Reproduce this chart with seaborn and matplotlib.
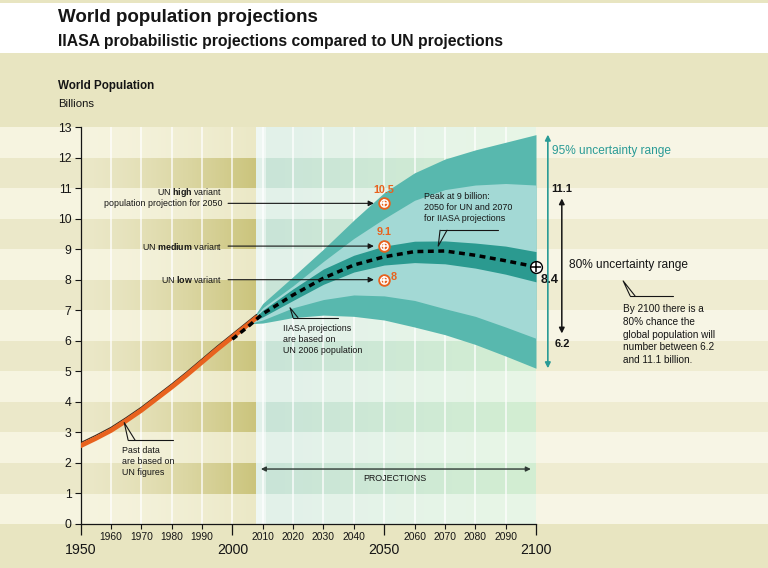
import numpy as np
import matplotlib
matplotlib.use("Agg")
import matplotlib.pyplot as plt
import seaborn as sns
from matplotlib.patches import Rectangle

# ---------------- data ----------------
hist_years = [1950, 1955, 1960, 1965, 1970, 1975, 1980, 1985, 1990, 1995, 2000, 2005, 2008]
hist_pop = [2.56, 2.80, 3.06, 3.38, 3.72, 4.10, 4.48, 4.88, 5.30, 5.72, 6.12, 6.52, 6.76]

proj_years = [2006, 2010, 2020, 2030, 2040, 2050, 2060, 2070, 2080, 2090, 2100]
upper95 = [6.62, 7.22, 8.10, 9.00, 9.95, 10.85, 11.50, 11.95, 12.25, 12.50, 12.75]
upper80 = [6.62, 7.08, 7.80, 8.60, 9.35, 10.00, 10.60, 10.95, 11.10, 11.15, 11.10]
upper_mid = [6.62, 7.00, 7.70, 8.35, 8.80, 9.10, 9.26, 9.27, 9.20, 9.10, 8.92]
lower_mid = [6.60, 6.78, 7.32, 7.85, 8.25, 8.48, 8.56, 8.52, 8.38, 8.18, 7.93]
lower80 = [6.58, 6.68, 7.08, 7.35, 7.50, 7.47, 7.32, 7.05, 6.80, 6.45, 6.08]
lower95 = [6.56, 6.58, 6.76, 6.84, 6.80, 6.68, 6.45, 6.20, 5.88, 5.50, 5.10]

median_years = [2000, 2005, 2010, 2020, 2030, 2040, 2050, 2060, 2070, 2080, 2090, 2100]
median_pop = [6.05, 6.45, 6.88, 7.50, 8.05, 8.48, 8.75, 8.92, 8.94, 8.80, 8.62, 8.42]

un_year = 2050
un_variants = ["high", "medium", "low"]
un_values = [10.5, 9.1, 8.0]
iiasa_2100 = 8.4
range80 = [6.2, 11.1]

major_years = [1950, 2000, 2050, 2100]
minor_years = [1960, 1970, 1980, 1990, 2010, 2020, 2030, 2040, 2060, 2070, 2080, 2090]
y_ticks = list(range(0, 14))

# ---------------- style ----------------
sns.set_theme(style="white")
FONT = ["Liberation Sans", "DejaVu Sans"]
plt.rcParams["font.family"] = FONT
plt.rcParams["mathtext.fontset"] = "custom"
plt.rcParams["mathtext.rm"] = "Liberation Sans"
plt.rcParams["mathtext.bf"] = "Liberation Sans:bold"

BEIGE = "#e8e5c1"
ORANGE = "#e8621e"
TEAL_OUT = "#58b8ae"
TEAL_IN = "#a3d9d5"
TEAL_MID = "#2b9a90"
TEAL_TXT = "#2a9b96"
INK = "#151515"

fig = plt.figure(figsize=(7.68, 5.68), dpi=100, facecolor=BEIGE)
ax = fig.add_axes([80.5 / 768, 44 / 568, 455.5 / 768, 397 / 568], zorder=1)
ax.set_facecolor("none")
X0, X1, Y0, Y1 = 1950, 2100, 0, 13
ax.set_xlim(X0, X1)
ax.set_ylim(Y0, Y1)

# background axis spanning whole figure, aligned with data coordinates
pos = ax.get_position()
sx = (X1 - X0) / pos.width
sy = (Y1 - Y0) / pos.height
bx0 = X0 - pos.x0 * sx
by0 = Y0 - pos.y0 * sy
ax_bg = fig.add_axes([0, 0, 1, 1], zorder=0)
ax_bg.set_facecolor("none")
ax_bg.axis("off")


def hexrgb(h):
    h = h.lstrip("#")
    return np.array([int(h[i:i + 2], 16) for i in (0, 2, 4)]) / 255.0


def mix(a, b, t):
    return a + (b - a) * t


cols = np.linspace(bx0, bx0 + sx, 1600)
img = np.zeros((13, len(cols), 3))
for j, yr in enumerate(cols):
    if yr < 1950:
        dark, light = hexrgb("#ebe8c9"), hexrgb("#f6f4e0")
    elif yr < 2007.8:
        t = ((yr - 1950) / 57.8) ** 1.4
        dark = mix(hexrgb("#ebe8c8"), hexrgb("#cbc47c"), t)
        light = mix(hexrgb("#f6f4df"), hexrgb("#ebe8c6"), t)
    elif yr <= 2100:
        t = (yr - 2008) / 92.0
        dark = mix(hexrgb("#c9e4d8"), hexrgb("#d3eed2"), t)
        light = mix(hexrgb("#e2f1ea"), hexrgb("#e8f6e6"), t)
        if yr < 2011:
            dark = mix(dark, np.ones(3), 0.45)
            light = mix(light, np.ones(3), 0.45)
    else:
        dark, light = hexrgb("#efecd1"), hexrgb("#f7f5e5")
    for i in range(13):
        img[i, j] = dark if i % 2 == 1 else light
ax_bg.imshow(img, extent=[bx0, bx0 + sx, 0, 13], origin="lower", aspect="auto",
             interpolation="nearest")
ax_bg.set_xlim(bx0, bx0 + sx)
ax_bg.set_ylim(by0, by0 + sy)
# white header strip
ax_bg.add_patch(Rectangle((bx0, 13 + (127 - 53) / 568 * sy), sx, 50 / 568 * sy,
                          facecolor="white", edgecolor="none"))

# decade grid lines (white)
for yr in minor_years + [2000, 2050]:
    ax.plot([yr, yr], [0, 13], color="white", lw=1.3, alpha=0.75, zorder=0.5)

# ---------------- uncertainty bands ----------------
ax.fill_between(proj_years, lower95, upper95, color=TEAL_OUT, lw=0, zorder=1)
ax.fill_between(proj_years, lower80, upper80, color=TEAL_IN, lw=0, zorder=1.1)
ax.fill_between(proj_years, lower_mid, upper_mid, color=TEAL_MID, lw=0, zorder=1.2)

# ---------------- lines ----------------
sns.lineplot(x=hist_years, y=np.array(hist_pop) + 0.1, color="#3a2a20", lw=0.9, ax=ax, zorder=2.9)
sns.lineplot(x=hist_years, y=hist_pop, color=ORANGE, lw=3.4, ax=ax, zorder=3)
sns.lineplot(x=median_years, y=median_pop, color="black", lw=2.5, ax=ax, zorder=4)
ax.lines[-1].set_linestyle((0, (1.7, 1.3)))
ax.lines[-1].set_solid_capstyle("butt")

# ---------------- UN markers ----------------
for v in un_values:
    ax.plot(un_year, v, "o", ms=8, mfc=ORANGE, mec=ORANGE, zorder=5, clip_on=False)
    ax.plot(un_year, v, "o", ms=5.2, mfc="none", mec="white", mew=1.0, zorder=5.1)
    ax.plot(un_year, v, "+", ms=5.2, mec="white", mew=1.1, zorder=5.2)
VFS = 7.8
ax.text(un_year, un_values[0] + 0.44, f"{un_values[0]:.1f}", color=ORANGE, fontsize=VFS,
        weight="bold", ha="center", va="center", zorder=6)
ax.text(un_year, un_values[1] + 0.45, f"{un_values[1]:.1f}", color=ORANGE, fontsize=VFS,
        weight="bold", ha="center", va="center", zorder=6)
ax.text(un_year + 3.2, un_values[2] + 0.08, f"{un_values[2]:.0f}", color=ORANGE, fontsize=VFS,
        weight="bold", ha="center", va="center", zorder=6)

# IIASA 2100 marker
ax.plot(2100, iiasa_2100, "o", ms=8.5, mfc="white", mec="black", mew=1.0, zorder=6, clip_on=False)
ax.plot(2100, iiasa_2100, "+", ms=7, mec="black", mew=1.1, zorder=6.1, clip_on=False)
ax.text(2104.4, iiasa_2100 - 0.42, f"{iiasa_2100:.1f}", fontsize=9.2, weight="bold",
        ha="center", va="center", color=INK)

# ---------------- UN variant labels and arrows ----------------
AFS = 6.4
arrow_kw = dict(arrowstyle="-|>", color=INK, lw=0.8, mutation_scale=8, shrinkA=0, shrinkB=0)

ax.text(1996.6, un_values[0] + 0.34, r"UN $\mathbf{" + un_variants[0] + r"}$ variant",
        ha="right", va="center", fontsize=AFS, color=INK)
ax.text(1996.6, un_values[0], "population projection for 2050", ha="right", va="center",
        fontsize=AFS, color=INK)
ax.text(1996.6, un_values[1], r"UN $\mathbf{" + un_variants[1] + r"}$ variant",
        ha="right", va="center", fontsize=AFS, color=INK)
ax.text(1996.6, un_values[2], r"UN $\mathbf{" + un_variants[2] + r"}$ variant",
        ha="right", va="center", fontsize=AFS, color=INK)
for v in un_values:
    ax.annotate("", xy=(2046.6, v), xytext=(1998.6, v), arrowprops=arrow_kw, zorder=6)


# ---------------- callouts ----------------
def callout(tip, b1, b2, end):
    ax.plot([b1[0], tip[0], b2[0]], [b1[1], tip[1], b2[1]], color=INK, lw=0.8,
            zorder=6, clip_on=False)
    ax.plot([b1[0], end[0]], [b1[1], end[1]], color=INK, lw=0.8, zorder=6, clip_on=False)


callout((1964.4, 3.32), (1965.7, 2.74), (1968.0, 2.74), (1980.6, 2.74))
ax.text(1963.6, 2.56, "Past data\nare based on\nUN figures", fontsize=AFS, va="top",
        ha="left", color=INK, linespacing=1.3)

callout((2019.0, 7.08), (2020.0, 6.76), (2021.6, 6.76), (2034.8, 6.76))
ax.text(2016.8, 6.55, "IIASA projections\nare based on\nUN 2006 population", fontsize=AFS,
        va="top", ha="left", color=INK, linespacing=1.3)

callout((2067.8, 9.10), (2068.4, 9.62), (2070.7, 9.62), (2087.6, 9.62))
ax.text(2063.2, 10.88, "Peak at 9 billion:\n2050 for UN and 2070\nfor IIASA projections",
        fontsize=AFS, va="top", ha="left", color=INK, linespacing=1.3)

# ---------------- uncertainty arrows at right ----------------
ax.annotate("", xy=(2103.9, upper95[-1]), xytext=(2103.9, lower95[-1]),
            arrowprops=dict(arrowstyle="<|-|>", color=TEAL_TXT, lw=1.2, mutation_scale=8,
                            shrinkA=0, shrinkB=0), annotation_clip=False)
ax.text(2105.4, 12.21, "95% uncertainty range", color=TEAL_TXT, fontsize=8.6,
        ha="left", va="center")
ax.annotate("", xy=(2108.5, 10.66), xytext=(2108.5, 6.24),
            arrowprops=dict(arrowstyle="<|-|>", color=INK, lw=1.1, mutation_scale=8,
                            shrinkA=0, shrinkB=0), annotation_clip=False)
ax.text(2108.5, 10.98, f"{range80[1]:.1f}", fontsize=8, weight="bold", ha="center",
        va="center", color=INK)
ax.text(2108.6, 5.89, f"{range80[0]:.1f}", fontsize=8, weight="bold", ha="center",
        va="center", color=INK)
ax.text(2111.0, 8.48, "80% uncertainty range", fontsize=8.6, ha="left", va="center", color=INK)
callout((2128.7, 7.96), (2131.0, 7.47), (2132.6, 7.47), (2145.2, 7.47))
ax.text(2128.5, 7.19, "By 2100 there is a\n80% chance the\nglobal population will\n"
        "number between 6.2\nand 11.1 billion.", fontsize=7.2, va="top", ha="left",
        color=INK, linespacing=1.32)

# PROJECTIONS arrow
ax.annotate("", xy=(2009.4, 1.8), xytext=(2098.3, 1.8),
            arrowprops=dict(arrowstyle="<|-|>", color="#2f3a35", lw=1.0, mutation_scale=7,
                            shrinkA=0, shrinkB=0))
ax.text(2053.6, 1.5, "PROJECTIONS", fontsize=6.4, ha="center", va="center", color=INK)

# ---------------- axes ----------------
for s in ["top", "right"]:
    ax.spines[s].set_visible(False)
for s in ["left", "bottom"]:
    ax.spines[s].set_color(INK)
    ax.spines[s].set_linewidth(0.9)
ax.set_yticks(y_ticks)
ax.set_yticklabels([str(v) for v in y_ticks])
ax.set_xticks(major_years)
ax.set_xticklabels([str(v) for v in major_years])
ax.set_xticks(minor_years, minor=True)
ax.set_xticklabels([str(v) for v in minor_years], minor=True)
ax.tick_params(axis="y", left=True, direction="out", length=4.5, width=0.8, labelsize=8.8,
               pad=2, colors=INK)
ax.tick_params(axis="x", which="major", bottom=True, direction="out", length=8, width=0.9,
               labelsize=10.2, pad=6, colors=INK)
ax.tick_params(axis="x", which="minor", bottom=True, direction="out", length=3.5, width=0.8,
               labelsize=7.4, pad=2.5, colors=INK)
ax.grid(False)
ax.set_xlabel("")
ax.set_ylabel("")

# ---------------- titles ----------------
fig.text(58 / 768, 1 - 18 / 568, "World population projections", fontsize=13.5, weight="bold",
         ha="left", va="center", color=INK)
fig.text(58 / 768, 1 - 41.5 / 568, "IIASA probabilistic projections compared to UN projections",
         fontsize=11.3, weight="bold", ha="left", va="center", color=INK)
fig.text(58 / 768, 1 - 86 / 568, "World Population", fontsize=8.4, weight="bold",
         ha="left", va="center", color=INK)
fig.text(58 / 768, 1 - 103.5 / 568, "Billions", fontsize=8.2, ha="left", va="center", color=INK)

fig.savefig("out.png", dpi=100, facecolor=BEIGE)
